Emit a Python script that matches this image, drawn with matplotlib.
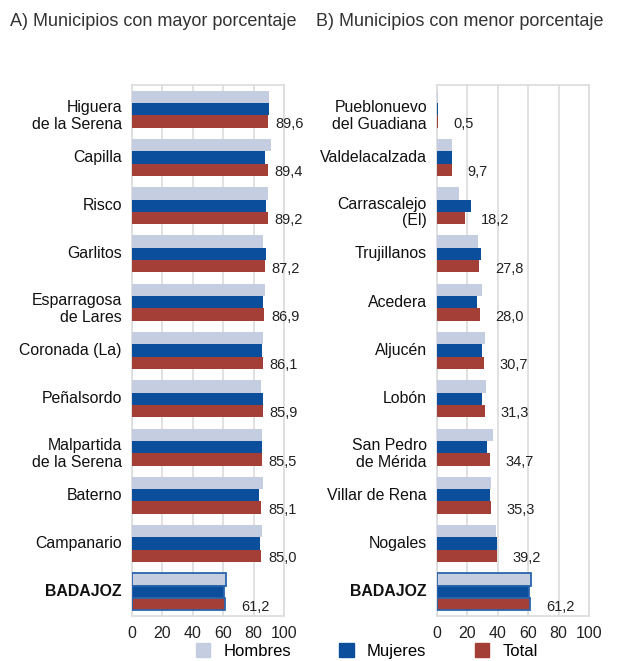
import matplotlib
matplotlib.use("Agg")
from matplotlib import pyplot as plt
from matplotlib.patches import Patch
import numpy as np

plt.rcParams['font.family'] = ['Liberation Sans', 'DejaVu Sans']

# A) municipios con mayor porcentaje
mayor_names = ['Higuera\nde la Serena', 'Capilla', 'Risco', 'Garlitos', 'Esparragosa\nde Lares',
               'Coronada (La)', 'Peñalsordo', 'Malpartida\nde la Serena', 'Baterno', 'Campanario',
               'BADAJOZ']
mayor_hombres = [90.2, 91.3, 89.8, 86.1, 87.8, 86.5, 85.0, 85.7, 86.5, 85.7, 62.0]
mayor_mujeres = [90.0, 87.4, 88.3, 88.3, 85.9, 85.4, 86.3, 85.2, 83.4, 84.3, 60.7]
mayor_total = [89.6, 89.4, 89.2, 87.2, 86.9, 86.1, 85.9, 85.5, 85.1, 85.0, 61.2]

# B) municipios con menor porcentaje
menor_names = ['Pueblonuevo\ndel Guadiana', 'Valdelacalzada', 'Carrascalejo\n(El)', 'Trujillanos',
               'Acedera', 'Aljucén', 'Lobón', 'San Pedro\nde Mérida', 'Villar de Rena', 'Nogales',
               'BADAJOZ']
menor_hombres = [0.6, 9.9, 14.6, 26.9, 29.6, 31.8, 32.5, 36.6, 35.8, 38.9, 62.0]
menor_mujeres = [0.4, 9.7, 22.3, 28.7, 26.5, 29.4, 29.8, 32.9, 34.9, 39.3, 60.7]
menor_total = [0.5, 9.7, 18.2, 27.8, 28.0, 30.7, 31.3, 34.7, 35.3, 39.2, 61.2]

c_h = '#c5cde0'
c_m = '#0b4f9c'
c_t = '#a33f37'
grid_c = '#dcdcdc'

fig = plt.figure(figsize=(6.35, 6.61), dpi=100)


def panel(ax, names, hombres, mujeres, total, near_edge):
    n = len(names)
    y = np.arange(n)
    h = 0.255
    for i in range(n):
        ec = '#2a64ad' if names[i] == 'BADAJOZ' else 'none'
        lw = 1.3 if names[i] == 'BADAJOZ' else 0
        ax.barh(y[i] - h, hombres[i], height=h, color=c_h, edgecolor=ec, linewidth=lw, zorder=3)
        ax.barh(y[i], mujeres[i], height=h, color=c_m, edgecolor=ec, linewidth=lw, zorder=3)
        ax.barh(y[i] + h, total[i], height=h, color=c_t, edgecolor=ec, linewidth=lw, zorder=3)
        off = 4.5 if (near_edge and total[i] > 80) else 10.5
        ax.text(total[i] + off, y[i] + h + 0.05, f'{total[i]:.1f}'.replace('.', ','),
                fontsize=10.5, color='#222222', va='center', ha='left', zorder=4)
        dy = 0.14 if '\n' in names[i] else 0
        ax.text(-0.066, y[i] + dy, names[i], transform=ax.get_yaxis_transform(),
                ha='right', va='center', fontsize=11.4, color='#111111',
                fontweight='bold' if names[i] == 'BADAJOZ' else 'normal', linespacing=1.15)
    ax.set_xlim(0, 100)
    ax.set_ylim(n - 0.5, -0.5)
    ax.set_yticks([])
    ax.set_xticks([0, 20, 40, 60, 80, 100])
    ax.tick_params(axis='x', length=0, labelsize=11.5, labelcolor='#222222', pad=7)
    ax.grid(axis='x', color=grid_c, linewidth=1.2, zorder=0)
    for s in ax.spines.values():
        s.set_color(grid_c)
        s.set_linewidth(1.2)


ax1 = fig.add_axes([132 / 635, 1 - 616 / 661, 152 / 635, 531 / 661])
ax2 = fig.add_axes([437 / 635, 1 - 616 / 661, 152 / 635, 531 / 661])
panel(ax1, mayor_names, mayor_hombres, mayor_mujeres, mayor_total, True)
panel(ax2, menor_names, menor_hombres, menor_mujeres, menor_total, False)

title_font = ['Liberation Sans Narrow', 'Liberation Sans', 'DejaVu Sans']
fig.text(10 / 635, 1 - 21 / 661, 'A) Municipios con mayor porcentaje', fontsize=13,
         color='#333333', family=title_font, va='center', ha='left')
fig.text(316 / 635, 1 - 21 / 661, 'B) Municipios con menor porcentaje', fontsize=13,
         color='#333333', family=title_font, va='center', ha='left')

handles = [Patch(color=c_h), Patch(color=c_m), Patch(color=c_t)]
fig.legend(handles, ['Hombres', 'Mujeres', 'Total'], ncol=3, frameon=False,
           loc='center left', bbox_to_anchor=(196 / 635, 1 - 651 / 661),
           fontsize=12, handlelength=0.85, handleheight=0.85, handletextpad=0.8,
           columnspacing=2.9, borderpad=0, borderaxespad=0)

fig.savefig('out.png', dpi=100)
